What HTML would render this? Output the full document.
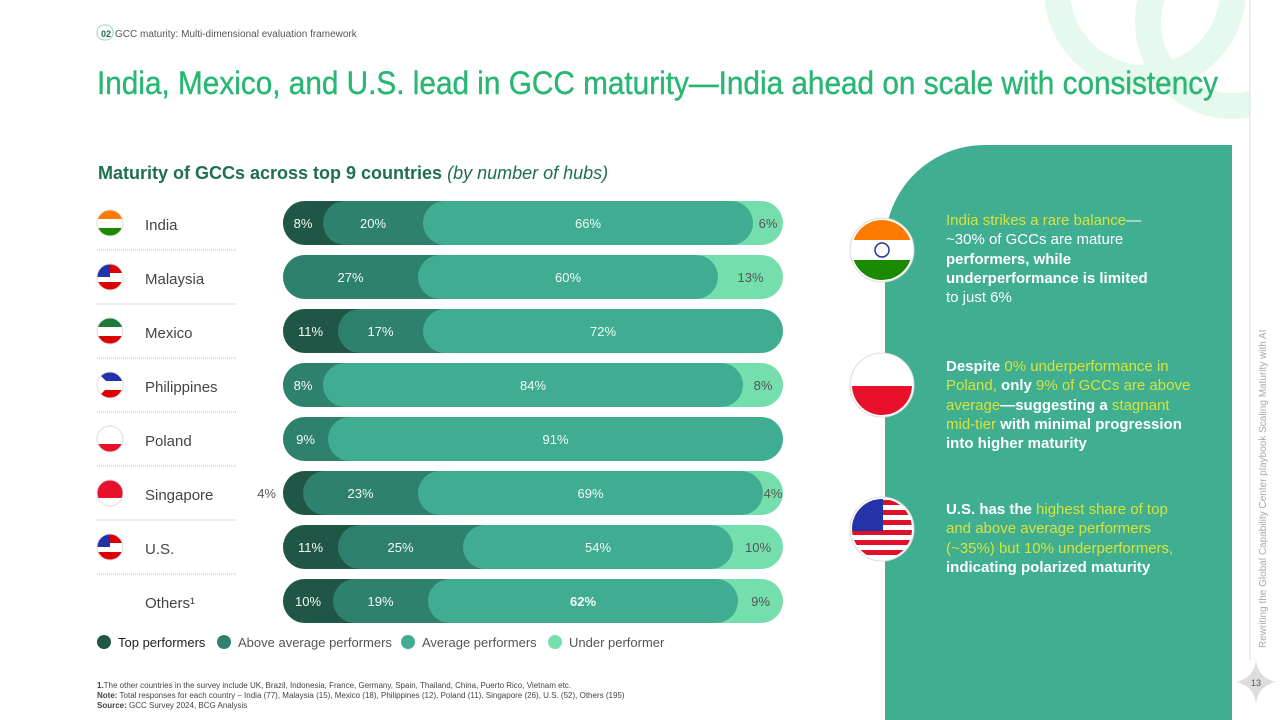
<!DOCTYPE html>
<html><head><meta charset="utf-8"><style>
body{margin:0;width:1280px;height:720px;overflow:hidden;background:#fff;font-family:"Liberation Sans",sans-serif;}
svg{display:block}
</style></head><body>
<svg id="s" width="1280" height="720" viewBox="0 0 1280 720">
<defs id="defs"></defs>
<g fill="none" stroke="#e6f9ef" stroke-width="26">
<circle cx="1145" cy="-10" r="88"/><circle cx="1232" cy="22" r="84"/>
</g>
<rect x="1250" y="0" width="30" height="720" fill="#fff"/>
<line x1="1250" y1="0" x2="1250" y2="660" stroke="#ddd" stroke-width="1"/>
<rect x="97" y="25" width="16" height="15" rx="7" fill="none" stroke="#9cd6bd"/>
<text x="101" y="37" font-size="9" font-weight="bold" fill="#1f6e50">02</text>
<text x="115" y="37" font-size="10" fill="#555">GCC maturity: Multi-dimensional evaluation framework</text>
<text x="97" y="94" font-size="32" fill="#2ab673" stroke="#2ab673" stroke-width="0.4" textLength="1121" lengthAdjust="spacingAndGlyphs">India, Mexico, and U.S. lead in GCC maturity—India ahead on scale with consistency</text>
<text x="98" y="179" font-size="18" font-weight="bold" fill="#1e6e50">Maturity of GCCs across top 9 countries <tspan font-weight="normal" font-style="italic">(by number of hubs)</tspan></text>
<g id="chart"></g>
<g id="legend"></g>
<g font-size="8" fill="#444">
<text x="97" y="688"><tspan font-weight="bold">1.</tspan>The other countries in the survey include UK, Brazil, Indonesia, France, Germany, Spain, Thailand, China, Puerto Rico, Vietnam etc.</text>
<text x="97" y="698"><tspan font-weight="bold">Note:</tspan> Total responses for each country – India (77), Malaysia (15), Mexico (18), Philippines (12), Poland (11), Singapore (26), U.S. (52), Others (195)</text>
<text x="97" y="708"><tspan font-weight="bold">Source:</tspan> GCC Survey 2024, BCG Analysis</text>
</g>
<path d="M885 720 V245 A100 100 0 0 1 985 145 H1232 V720 Z" fill="#3fae91"/>
<g>
<circle cx="882" cy="250" r="32" fill="#fff" stroke="#ddd"/>
<clipPath id="c1"><circle cx="882" cy="250" r="30"/></clipPath>
<g clip-path="url(#c1)"><rect x="850" y="220" width="64" height="20" fill="#ff7b00"/><rect x="850" y="240" width="64" height="20" fill="#fff"/><rect x="850" y="260" width="64" height="22" fill="#1a8a00"/></g>
<circle cx="882" cy="250" r="7" fill="none" stroke="#2233aa" stroke-width="1.5"/>
<g font-size="15" fill="#fff">
<text x="946" y="225" fill="#d7e33a">India strikes a rare balance<tspan fill="#fff">—</tspan></text>
<text x="946" y="244">~30% of GCCs are mature</text>
<text x="946" y="264" font-weight="bold">performers, while</text>
<text x="946" y="283" font-weight="bold">underperformance is limited</text>
<text x="946" y="302">to just 6%</text></g>
</g>
<g>
<circle cx="882" cy="385" r="32" fill="#fff" stroke="#ddd"/>
<clipPath id="c2"><circle cx="882" cy="385" r="30"/></clipPath>
<rect x="850" y="386" width="64" height="32" fill="#e8102a" clip-path="url(#c2)"/>
<g font-size="15" fill="#fff">
<text x="946" y="371"><tspan font-weight="bold">Despite </tspan><tspan fill="#d7e33a">0% underperformance in</tspan></text>
<text x="946" y="390"><tspan fill="#d7e33a">Poland,</tspan><tspan font-weight="bold"> only </tspan><tspan fill="#d7e33a">9% of GCCs are above</tspan></text>
<text x="946" y="410"><tspan fill="#d7e33a">average</tspan><tspan font-weight="bold">—suggesting a </tspan><tspan fill="#d7e33a">stagnant</tspan></text>
<text x="946" y="429"><tspan fill="#d7e33a">mid-tier</tspan><tspan font-weight="bold"> with minimal progression</tspan></text>
<text x="946" y="448" font-weight="bold">into higher maturity</text></g>
</g>
<g>
<circle cx="882" cy="529" r="32" fill="#fff" stroke="#ddd"/>
<clipPath id="c3"><circle cx="882" cy="529" r="30"/></clipPath>
<g clip-path="url(#c3)">
<rect x="850" y="499" width="64" height="62" fill="#fff"/>
<rect x="850" y="500" width="64" height="5" fill="#e0102a"/><rect x="850" y="510" width="64" height="5" fill="#e0102a"/><rect x="850" y="520" width="64" height="5" fill="#e0102a"/><rect x="850" y="530" width="64" height="5" fill="#e0102a"/><rect x="850" y="540" width="64" height="5" fill="#e0102a"/><rect x="850" y="550" width="64" height="5" fill="#e0102a"/>
<rect x="850" y="499" width="33" height="32" fill="#2233aa"/></g>
<g font-size="15" fill="#fff">
<text x="946" y="514"><tspan font-weight="bold">U.S. has the </tspan><tspan fill="#d7e33a">highest share of top</tspan></text>
<text x="946" y="533" fill="#d7e33a">and above average performers</text>
<text x="946" y="553" fill="#d7e33a">(~35%) but 10% underperformers,</text>
<text x="946" y="572" font-weight="bold">indicating polarized maturity</text></g>
</g>
<text transform="translate(1266,648) rotate(-90)" font-size="10" fill="#aaa">Rewriting the Global Capability Center playbook Scaling Maturity with AI</text>
<path d="M1256 660 Q1258 678 1276 682 Q1258 686 1256 704 Q1254 686 1236 682 Q1254 678 1256 660Z" fill="#ddd"/>
<text x="1256" y="686" font-size="9" fill="#555" text-anchor="middle">13</text>
</svg>
<script>
const countries=["India","Malaysia","Mexico","Philippines","Poland","Singapore","U.S.","Others"];
const topPerf=[8,0,11,0,0,4,11,10];
const aboveAvg=[20,27,17,8,9,23,25,19];
const average=[66,60,72,84,91,69,54,62];
const under=[6,13,0,8,0,4,10,9];
const seriesNames=["Top performers","Above average performers","Average performers","Under performer"];
const colors=["#1f5646","#2e816d","#40ad92","#74dfac"];
const NS="http://www.w3.org/2000/svg";
const X0=283,W=500,Y0=223,STEP=54,H=44,R=22;
const xs=v=>X0+v/100*W, ys=i=>Y0+i*STEP;
const chart=document.getElementById('chart');
const defs=document.getElementById('defs');
function mk(t,a,p){const e=document.createElementNS(NS,t);for(const k in a)e.setAttribute(k,a[k]);(p||chart).appendChild(e);return e;}
const series=[topPerf,aboveAvg,average,under];
countries.forEach((c,i)=>{
  const cy=ys(i);
  const g=mk('g',{});
  
  
  const name=mk('text',{x:145,y:cy+7,'font-size':15,fill:'#444'},g);
  name.textContent=c==="Others"?"Others¹":c;
  
  
  if(c!=="Others"){
    const cp=mk('clipPath',{id:'fc'+i},defs);
    mk('circle',{cx:110,cy:cy,r:13},cp);
    const fg=mk('g',{'clip-path':'url(#fc'+i+')'},g);
    
    
    const fc={India:['#ff7b00','#fff','#1a8a00'],Malaysia:['#d00','#fff','#d00'],Mexico:['#1a7a3a','#fff','#d00'],Philippines:['#2233aa','#fff','#d00'],Poland:['#fff','#fff','#e8102a'],Singapore:['#e8102a','#e8102a','#fff'],"U.S.":['#d00','#fff','#d00']}[c];
    fc.forEach((col,k)=>mk('rect',{x:97,y:cy-13+k*9,width:26,height:9,fill:col},fg));
    if(c==="Malaysia"||c==="U.S.")mk('rect',{x:97,y:cy-13,width:13,height:13,fill:'#2233aa'},fg);
    if(c==="Philippines")mk('path',{d:`M97 ${cy-13} L110 ${cy} L97 ${cy+13}Z`,fill:'#fff'},fg);
    mk('circle',{cx:110,cy:cy,r:13,fill:'none',stroke:'#ddd'},g);
    if(i<countries.length-1){mk('line',{x1:97,y1:cy+27,x2:236,y2:cy+27,stroke:'#bbb','stroke-dasharray':'1 1'},g);}
  }
  const bg=mk('rect',{x:xs(0),y:cy-H/2,width:W,height:H,rx:R,fill:colors[3]},g);
  
  
  let s=0;const starts=[];
  for(let k=0;k<3;k++){starts.push(s);s+=series[k][i];}
  for(let k=0;k<3;k++){
    const v=series[k][i]; if(v<=0) continue;
    const st=starts[k], en=st+v;
    const x1=xs(st); let x2=k<2?Math.min(xs(en)+R*2,xs(100)):xs(en);
    const r=mk('rect',{x:x1,y:cy-H/2,width:Math.max(x2-x1,H),height:H,rx:R,fill:colors[k]},g);
    
    
  }
  let acc=0;
  series.forEach((arr,k)=>{
    const v=arr[i]; if(v<=0){return;}
    let cx=(xs(acc)+xs(acc+v))/2; acc+=v;
    let anchor='middle', fill=k===3?'#555':'#f2fbf6';
    if(v<5&&k===0){cx=xs(0)-7;anchor='end';fill='#555';}
    const t=mk('text',{x:cx,y:cy+5,'font-size':13,fill:fill,'text-anchor':anchor},g);
    if(c==="Others"&&k===2)t.setAttribute('font-weight','bold');
    t.textContent=v+'%';
    
    
  });
});
const lg=document.getElementById('legend');
const lx=[104,224,408,555];
seriesNames.forEach((n,k)=>{
  const c=mk('circle',{cx:lx[k],cy:642,r:7,fill:colors[k]},lg);
  
  
  const t=mk('text',{x:lx[k]+14,y:647,'font-size':13,fill:k===0?'#222':'#555'},lg);
  t.textContent=n;
  
  
});
</script>
</body></html>
